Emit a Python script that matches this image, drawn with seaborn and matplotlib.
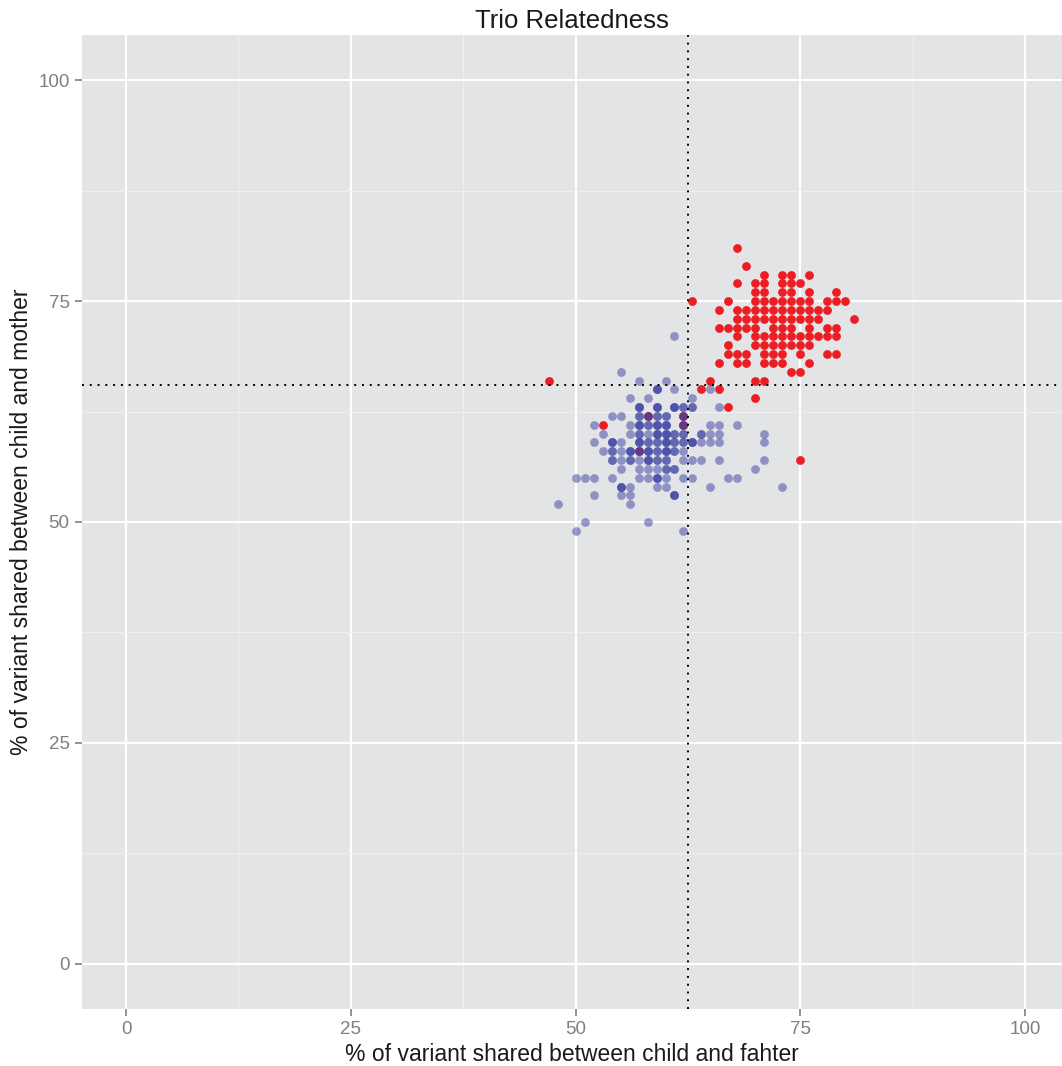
import numpy as np
import pandas as pd
import matplotlib
matplotlib.use("Agg")
import matplotlib.pyplot as plt
import seaborn as sns

# ---- data ----
# Red points (x, y)
red_x = [68, 69,
         71, 73, 74, 76,
         68, 70, 71, 73, 74, 75,
         70, 71, 73, 74, 76, 79,
         63, 67, 70, 71, 72, 73, 74, 75, 76, 78, 79, 80,
         66, 68, 69, 70, 71, 72, 73, 74, 75, 76, 77, 78,
         68, 69, 70, 71, 72, 73, 74, 75, 76, 77, 81,
         66, 67, 68, 69, 70, 72, 73, 74, 76, 78, 79,
         68, 70, 71, 72, 73, 74, 75, 76, 77, 78, 79,
         67, 70, 71, 72, 73, 74, 75, 76,
         67, 68, 69, 71, 72, 73, 75, 78, 79,
         66, 68, 69, 71, 72, 73, 76,
         74, 75,
         47, 65, 70, 71,
         64, 66,
         70,
         67,
         58, 62,
         53, 62,
         57,
         75]
red_y = [81, 79,
         78, 78, 78, 78,
         77, 77, 77, 77, 77, 77,
         76, 76, 76, 76, 76, 76,
         75, 75, 75, 75, 75, 75, 75, 75, 75, 75, 75, 75,
         74, 74, 74, 74, 74, 74, 74, 74, 74, 74, 74, 74,
         73, 73, 73, 73, 73, 73, 73, 73, 73, 73, 73,
         72, 72, 72, 72, 72, 72, 72, 72, 72, 72, 72,
         71, 71, 71, 71, 71, 71, 71, 71, 71, 71, 71,
         70, 70, 70, 70, 70, 70, 70, 70,
         69, 69, 69, 69, 69, 69, 69, 69, 69,
         68, 68, 68, 68, 68, 68, 68,
         67, 67,
         66, 66, 66, 66,
         65, 65,
         64,
         63,
         62, 62,
         61, 61,
         58,
         57]

# Blue points (x, y, number of overlapping samples)
blue_x = [61,
          55,
          57, 60,
          59, 61, 65,
          56, 58, 63,
          57, 59, 61, 62, 63, 66,
          54, 55, 57, 58, 59, 60, 62,
          52, 56, 57, 58, 59, 60, 62, 65, 66, 68,
          53, 56, 57, 58, 59, 60, 61, 62, 64, 65, 66, 71,
          52, 54, 55, 57, 58, 59, 60, 61, 62, 63, 64, 65, 66, 71,
          53, 54, 55, 56, 57, 58, 59, 60, 61, 62,
          54, 55, 56, 57, 58, 59, 60, 62, 63, 64, 66, 71,
          55, 57, 58, 59, 60, 61, 70,
          50, 51, 52, 54, 57, 58, 59, 60, 62, 63, 67, 68,
          55, 56, 59, 60, 65, 73,
          52, 55, 56, 61,
          48, 56,
          51, 58,
          50, 62]
blue_y = [71,
          67,
          66, 66,
          65, 65, 65,
          64, 64, 64,
          63, 63, 63, 63, 63, 63,
          62, 62, 62, 62, 62, 62, 62,
          61, 61, 61, 61, 61, 61, 61, 61, 61, 61,
          60, 60, 60, 60, 60, 60, 60, 60, 60, 60, 60, 60,
          59, 59, 59, 59, 59, 59, 59, 59, 59, 59, 59, 59, 59, 59,
          58, 58, 58, 58, 58, 58, 58, 58, 58, 58,
          57, 57, 57, 57, 57, 57, 57, 57, 57, 57, 57, 57,
          56, 56, 56, 56, 56, 56, 56,
          55, 55, 55, 55, 55, 55, 55, 55, 55, 55, 55, 55,
          54, 54, 54, 54, 54, 54,
          53, 53, 53, 53,
          52, 52,
          50, 50,
          49, 49]
blue_n = [1,
          1,
          1, 1,
          3, 1, 1,
          1, 1, 1,
          3, 3, 3, 2, 2, 1,
          1, 1, 2, 2, 2, 2, 2,
          1, 1, 3, 2, 3, 3, 2, 1, 1, 1,
          1, 1, 2, 1, 3, 3, 2, 2, 2, 1, 1, 1,
          1, 3, 1, 3, 2, 2, 3, 2, 2, 3, 1, 1, 1, 1,
          1, 2, 1, 3, 2, 3, 2, 3, 2, 1,
          2, 1, 2, 1, 3, 2, 2, 1, 1, 1, 1, 1,
          1, 1, 1, 1, 2, 2, 1,
          1, 1, 1, 1, 1, 1, 3, 1, 1, 1, 1, 1,
          3, 1, 1, 1, 1, 1,
          1, 1, 1, 3,
          1, 1,
          1, 1,
          1, 1]

mean_x = 62.5
mean_y = 65.5
x_ticks = [0, 25, 50, 75, 100]
y_ticks = [0, 25, 50, 75, 100]
title = "Trio Relatedness"
x_label = "% of variant shared between child and fahter"
y_label = "% of variant shared between child and mother"

red_df = pd.DataFrame({"x": red_x, "y": red_y})
blue_df = pd.DataFrame({"x": np.repeat(blue_x, blue_n), "y": np.repeat(blue_y, blue_n)})

# ---- style ----
sns.set_theme(style="darkgrid")
plt.rcParams["font.family"] = ["Liberation Sans", "DejaVu Sans"]

fig = plt.figure(figsize=(10.62, 10.66), dpi=100)
ax = fig.add_axes([82 / 1062, 1 - 1009 / 1066, 980 / 1062, 974 / 1066])
ax.set_facecolor("#E3E4E6")

sns.scatterplot(data=red_df, x="x", y="y", ax=ax, color="#EC1E24", s=40,
                linewidth=0, zorder=3)
sns.scatterplot(data=blue_df, x="x", y="y", ax=ax, color="#3A40A4", alpha=0.5,
                s=40, linewidth=0, zorder=4)

ax.axvline(mean_x, color="black", linestyle=(0, (1, 3)), linewidth=1.4, zorder=5)
ax.axhline(mean_y, color="black", linestyle=(0, (1, 3)), linewidth=1.4, zorder=5)

ax.set_xlim(-4.9, 104.1)
ax.set_ylim(-5.1, 105.1)
ax.set_xticks(x_ticks)
ax.set_yticks(y_ticks)
ax.set_xticks([12.5, 37.5, 62.5, 87.5], minor=True)
ax.set_yticks([12.5, 37.5, 62.5, 87.5], minor=True)
ax.grid(which="major", color="white", linewidth=1.6)
ax.grid(which="minor", color="#F0F0F2", linewidth=0.8)
ax.set_axisbelow(True)
for s in ax.spines.values():
    s.set_visible(False)

ax.tick_params(axis="both", which="major", direction="out", length=5, width=1.2,
               color="#7F7F7F", labelcolor="#7F7F7F", labelsize=13.5, pad=4)
ax.tick_params(axis="both", which="minor", length=0)
ax.tick_params(axis="x", bottom=True)
ax.tick_params(axis="y", left=True)

ax.set_xlabel(x_label, fontsize=16.5, color="#1a1a1a", labelpad=3)
ax.set_ylabel(y_label, fontsize=16.5, color="#1a1a1a", labelpad=4)
ax.set_title(title, fontsize=18.5, color="#1a1a1a", pad=5)

fig.savefig("out.png", dpi=100)
